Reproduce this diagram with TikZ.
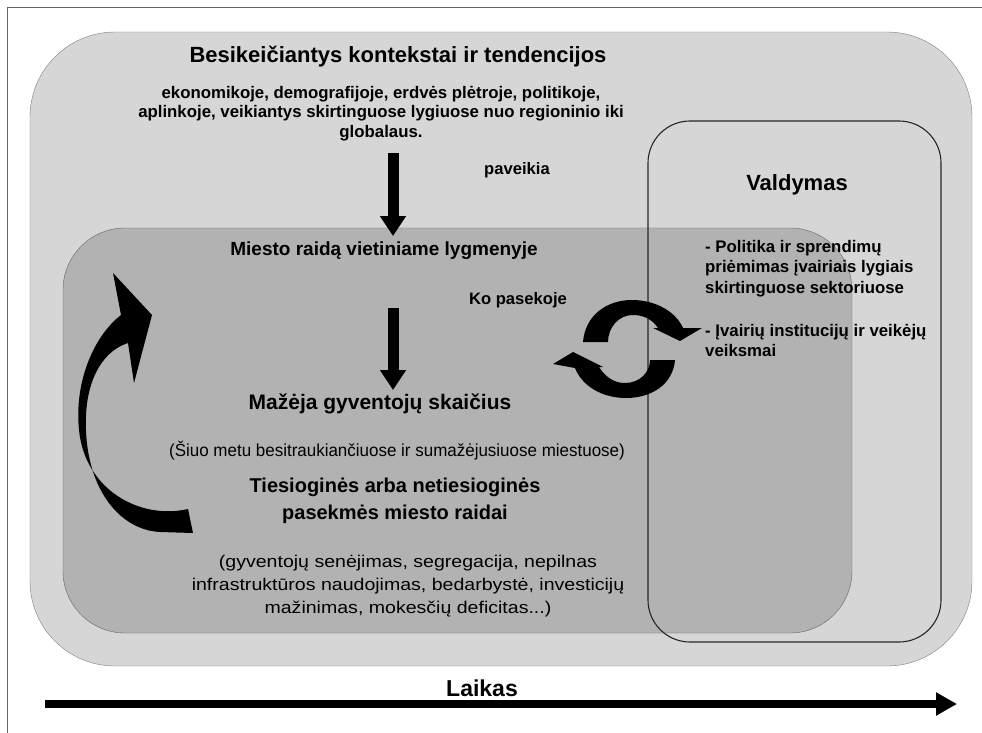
\documentclass[tikz,border=0pt]{standalone}
\usepackage{fontspec}
\setmainfont{Liberation Sans}
\newfontfamily\narrowfont{Liberation Sans}[FakeStretch=0.97]
\newfontfamily\widefont{Liberation Sans}[FakeStretch=1.15]
\usetikzlibrary{arrows.meta,positioning}
\definecolor{ctxgray}{RGB}{214,214,214}
\definecolor{localgray}{RGB}{178,178,178}
\tikzset{
	heading/.style={font=\bfseries\fontsize{22}{26}\selectfont, inner sep=0pt},
	boldtext/.style={font=\bfseries\fontsize{16.8}{19.5}\selectfont, align=center, inner sep=0pt},
	smalllabel/.style={font=\bfseries\fontsize{16.6}{20}\selectfont, inner sep=0pt},
	narrowtext/.style={font=\narrowfont\fontsize{17.5}{22}\selectfont, align=center, inner sep=0pt},
	bigarrow/.style={line width=11pt, -{Triangle[width=25pt,length=20pt]}},
}
\begin{document}
\begin{tikzpicture}[x=1pt, y=-1pt, line join=round]
	\useasboundingbox (0,0) rectangle (982,733);
	
	% frame and boxes
	\draw[black!60] (7,733) -- (7,7) -- (982,7);
	\draw[fill=ctxgray, draw=black!50, rounded corners=85pt] (30,32) rectangle (972,666);
	\draw[fill=localgray, draw=black!60, rounded corners=62pt] (63,228) rectangle (852,633);
	\draw[black!85, line width=1.1pt, rounded corners=42pt] (648,121) rectangle (941,642);
	
	% texts
	\node[heading, anchor=base] (ctx) at (398,63) {Besikeičiantys kontekstai ir tendencijos};
	\node[boldtext, anchor=north] (ctxtext) at (381,86)
		{ekonomikoje, demografijoje, erdvės plėtroje, politikoje,\\aplinkoje, veikiantys skirtinguose lygiuose nuo regioninio iki\\globalaus.};
	\node[smalllabel, anchor=base] (affects) at (517,174) {paveikia};
	\node[heading, font=\bfseries\fontsize{19}{22}\selectfont, anchor=base] (local) at (384,255) {Miesto raidą vietiniame lygmenyje};
	\node[smalllabel, anchor=base] (result) at (518,304) {Ko pasekoje};
	\node[heading, font=\bfseries\fontsize{21}{24}\selectfont, anchor=base] (decline) at (380,409) {Mažėja gyventojų skaičius};
	\node[narrowtext, anchor=base] (now) at (397,456) {(Šiuo metu besitraukiančiuose ir sumažėjusiuose miestuose)};
	\node[heading, font=\bfseries\fontsize{20}{27}\selectfont, align=center, anchor=north] (effects) at (395,477.5)
		{Tiesioginės arba netiesioginės\\pasekmės miesto raidai};
	\node[narrowtext, font=\widefont\fontsize{17}{23}\selectfont, anchor=north] (effectlist) at (408,554.5)
		{(gyventojų senėjimas, segregacija, nepilnas\\infrastruktūros naudojimas, bedarbystė, investicijų\\mažinimas, mokesčių deficitas...)};
	\node[heading, anchor=base] (gov) at (797,190) {Valdymas};
	\node[smalllabel, font=\bfseries\fontsize{16.8}{20.5}\selectfont, align=left, anchor=north west] (govtext) at (705,239.7)
		{- Politika ir sprendimų\\priėmimas įvairiais lygiais\\skirtinguose sektoriuose\\[22.5pt]- Įvairių institucijų ir veikėjų\\veiksmai};
	\node[heading, font=\bfseries\fontsize{23}{26}\selectfont, anchor=base] (time) at (482,696) {Laikas};
	
	% straight arrows
	\coordinate (ctxout) at (393,153);
	\coordinate (localin) at (393,236);
	\coordinate (localout) at (393,308);
	\coordinate (declinein) at (393,390);
	\draw[bigarrow] (ctxout) -- (localin);
	\draw[bigarrow] (localout) -- (declinein);
	\coordinate (timestart) at (45,704);
	\coordinate (timeend) at (957,704);
	\draw[line width=8pt, -{Triangle[width=22pt,length=21pt]}] (timestart) -- (timeend);
	
	% cycle arrows
	\fill (583,342) .. controls (585,316) and (606,300) .. (632,300) .. controls (656,300) and (676,312) .. (683,328)
		-- (702,328) -- (680,341) -- (653,328) -- (658,328) .. controls (652,319) and (643,315) .. (633,315)
		.. controls (618,315) and (608,328) .. (608,342) -- cycle;
	\fill (675,360) .. controls (673,384) and (652,398) .. (626,398) .. controls (602,398) and (582,386) .. (575,368)
		-- (553,364) -- (573,352) -- (603,367) -- (599,367) .. controls (606,378) and (615,383) .. (625,383)
		.. controls (640,383) and (650,372) .. (650,360) -- cycle;
	
	% feedback arrow
	\fill (113,273) -- (152,315) -- (134,383) -- (128,343)
		.. controls (100,352) and (84,385) .. (86,430)
		.. controls (88,490) and (120,530) .. (160,532) -- (193,533) -- (188,509)
		.. controls (140,520) and (85,490) .. (79,430)
		.. controls (74,380) and (95,335) .. (121,315) -- cycle;
\end{tikzpicture}
\end{document}
